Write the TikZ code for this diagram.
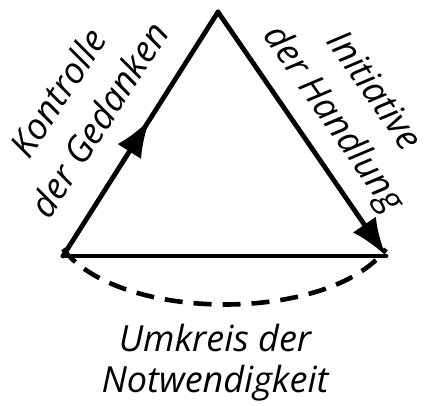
\documentclass[tikz,border=0pt]{standalone}
\usepackage{fontspec}
\setmainfont{Open Sans}
\usetikzlibrary{arrows.meta,decorations.markings}
\begin{document}
\begin{tikzpicture}[x=1pt,y=-1pt,
  edge/.style={line width=4.8pt,line cap=round},
  lbl/.style={font=\fontsize{36}{49}\selectfont\itshape,inner sep=0pt,align=center},
  tipa/.style={-{Latex[length=38pt,width=28pt]}}]
\useasboundingbox (0,0) rectangle (426,406);
\coordinate (A) at (218,12);
\coordinate (L) at (63,256);
\coordinate (R) at (386,256);
\draw[edge,postaction={decorate},decoration={markings,mark=at position 0.56 with {\arrow{Latex[length=38pt,width=28pt]}}}] (L) -- (A);
\draw[edge,tipa] (A) -- (R);
\draw[edge] (L) -- (R);
\draw[line width=4.6pt,dash pattern=on 18pt off 11pt] ([yshift=7pt]L) .. controls (120,323) and (330,323) .. ([yshift=7pt]R);
\node[lbl,rotate=57] (k) at (78,106) {Kontrolle\\der Gedanken};
\node[lbl,rotate=-55] (i) at (352,106) {Initiative\\der Handlung};
\node[lbl,font=\fontsize{36}{41}\selectfont\itshape] (u) at (215,363) {Umkreis der\\Notwendigkeit};
\end{tikzpicture}
\end{document}
